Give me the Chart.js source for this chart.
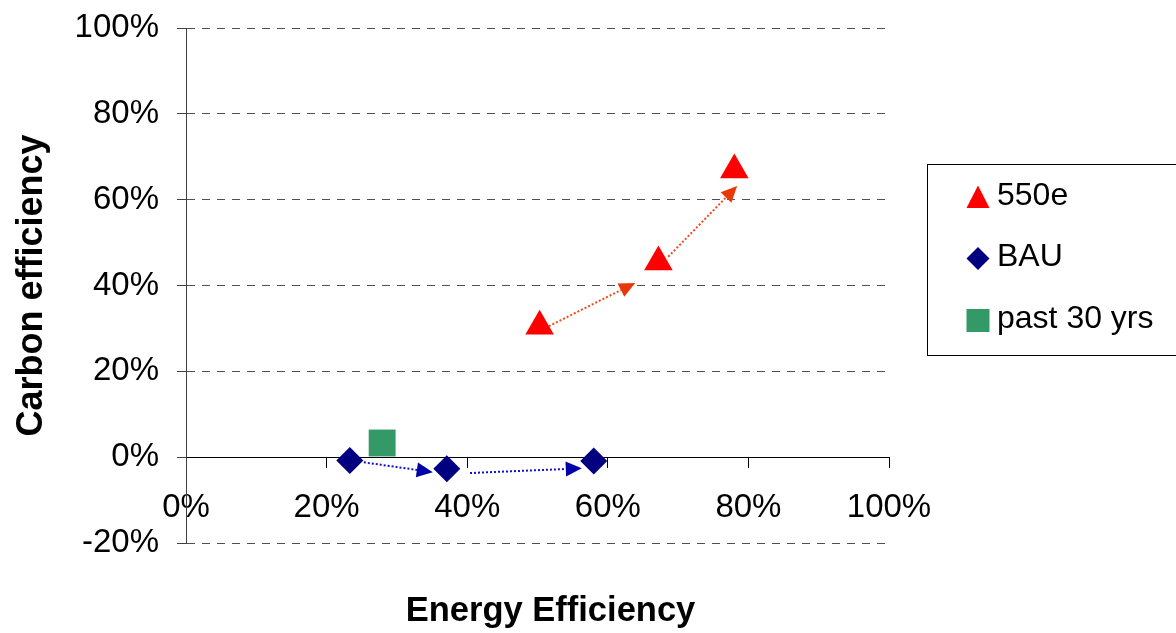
<!DOCTYPE html>
<html><head><meta charset="utf-8">
<script src="https://cdn.jsdelivr.net/npm/chart.js@4.4.1/dist/chart.umd.min.js"></script>
<style>html,body{margin:0;padding:0;background:#fff;}#wrap{width:1176px;height:633px;}</style>
</head><body><div id="wrap"><canvas id="c" width="1176" height="633"></canvas></div>
<script>
// ---- data (percent units) ----
const seriesNames = ['550e', 'BAU', 'past 30 yrs'];
const x550e = [50.3, 67.2, 78.0];
const y550e = [30.5, 45.5, 66.9];
const xBAU = [23.3, 37.1, 58.0];
const yBAU = [-0.8, -2.7, -0.9];
const xPast = [27.9];
const yPast = [3.3];
const xTicks = [0, 20, 40, 60, 80, 100];
const yTicks = [-20, 0, 20, 40, 60, 80, 100];
const xTitle = 'Energy Efficiency';
const yTitle = 'Carbon efficiency';
// arrows between scenario points (data units)
const arrow550eFromX = [51.1, 68.6];
const arrow550eFromY = [30.1, 46.7];
const arrow550eToX = [63.9, 78.4];
const arrow550eToY = [40.6, 63.2];
const arrowBAUFromX = [25.3, 40.4];
const arrowBAUFromY = [-1.2, -3.7];
const arrowBAUToX = [35.1, 56.3];
const arrowBAUToY = [-3.5, -2.6];

const FONT = "'Liberation Sans', Arial, Helvetica, sans-serif";
const pts = (xs, ys) => xs.map((x, i) => ({x: x, y: ys[i]}));
const pct = v => v + '%';

const arrowSets = [
  {fx: arrow550eFromX, fy: arrow550eFromY, tx: arrow550eToX, ty: arrow550eToY, line: '#F04A1E', head: '#E8380A'},
  {fx: arrowBAUFromX, fy: arrowBAUFromY, tx: arrowBAUToX, ty: arrowBAUToY, line: '#1010C8', head: '#0000A8'}
];

const arrowPlugin = {
  id: 'arrows',
  beforeDatasetsDraw(chart) {
    const ctx = chart.ctx, xs = chart.scales.x, ys = chart.scales.y;
    arrowSets.forEach(s => {
      s.fx.forEach((_, i) => {
        const x1 = xs.getPixelForValue(s.fx[i]), y1 = ys.getPixelForValue(s.fy[i]);
        const x2 = xs.getPixelForValue(s.tx[i]), y2 = ys.getPixelForValue(s.ty[i]);
        const a = Math.atan2(y2 - y1, x2 - x1);
        const L = 16, W = 7.5;
        const bx = x2 - L * Math.cos(a), by = y2 - L * Math.sin(a);
        ctx.save();
        ctx.strokeStyle = s.line; ctx.lineWidth = 2; ctx.setLineDash([2, 2]);
        ctx.beginPath(); ctx.moveTo(x1, y1); ctx.lineTo(bx, by); ctx.stroke();
        ctx.setLineDash([]);
        ctx.fillStyle = s.head;
        ctx.beginPath();
        ctx.moveTo(x2, y2);
        ctx.lineTo(bx + W * Math.sin(a), by - W * Math.cos(a));
        ctx.lineTo(bx - W * Math.sin(a), by + W * Math.cos(a));
        ctx.closePath(); ctx.fill();
        ctx.restore();
      });
    });
  }
};

// shift the bottom title band a little to the right, as in the original layout
const titleShiftPlugin = {
  id: 'titleShift',
  afterLayout(chart) { chart.scales.x2.left += 26; }
};

const legendPlugin = {
  id: 'boxLegend',
  afterDraw(chart) {
    const ctx = chart.ctx;
    const box = {l: 927.5, t: 164.5, r: 1180, b: 355.5};
    ctx.save();
    ctx.strokeStyle = '#000'; ctx.lineWidth = 1;
    ctx.strokeRect(box.l, box.t, box.r - box.l, box.b - box.t);
    const rowY = [197, 258.5, 320.5];
    const mx = 978, s = 23;
    chart.data.datasets.forEach((ds, i) => {
      const cy = rowY[i];
      ctx.fillStyle = ds.backgroundColor;
      ctx.beginPath();
      if (ds.pointStyle === 'triangle') {
        ctx.moveTo(mx, cy - 11.5); ctx.lineTo(mx + s / 2, cy + 11); ctx.lineTo(mx - s / 2, cy + 11);
      } else if (ds.pointStyle === 'rectRot') {
        ctx.moveTo(mx, cy - s / 2); ctx.lineTo(mx + s / 2, cy); ctx.lineTo(mx, cy + s / 2); ctx.lineTo(mx - s / 2, cy);
      } else {
        ctx.rect(mx - s / 2, cy - s / 2, s, s);
      }
      ctx.closePath(); ctx.fill();
      ctx.fillStyle = '#000';
      ctx.font = '32px ' + FONT;
      ctx.textAlign = 'left'; ctx.textBaseline = 'middle';
      ctx.fillText(ds.label, 997, cy - 1);
    });
    ctx.restore();
  }
};

new Chart(document.getElementById('c'), {
  type: 'scatter',
  data: {
    datasets: [
      {label: seriesNames[0], data: pts(x550e, y550e), pointStyle: 'triangle', pointRadius: 16.5,
       backgroundColor: '#FF0000', borderColor: '#FF0000', borderWidth: 0, showLine: false},
      {label: seriesNames[1], data: pts(xBAU, yBAU), pointStyle: 'rectRot', pointRadius: 13.5,
       backgroundColor: '#000080', borderColor: '#000080', borderWidth: 0, showLine: false},
      {label: seriesNames[2], data: pts(xPast, yPast), pointStyle: 'rect', pointRadius: 19,
       backgroundColor: '#339966', borderColor: '#339966', borderWidth: 0, showLine: false}
    ]
  },
  options: {
    responsive: false,
    animation: false,
    events: [],
    layout: {padding: {left: 0, right: 287, top: 28, bottom: 0}},
    plugins: {legend: {display: false}, tooltip: {enabled: false}},
    scales: {
      x: {
        type: 'linear', min: 0, max: 100, position: {y: 0},
        afterBuildTicks: sc => { sc.ticks = xTicks.map(v => ({value: v})); },
        grid: {drawOnChartArea: false, drawTicks: true, tickLength: 10, color: '#000', tickColor: '#000'},
        border: {display: true, color: '#000', width: 1},
        ticks: {callback: pct, color: '#000', padding: 21, maxRotation: 0, autoSkip: false,
                font: {family: FONT, size: 33}}
      },
      x2: {
        type: 'linear', axis: 'x', position: 'bottom', min: 0, max: 100,
        grid: {display: false, drawTicks: false},
        border: {display: false},
        ticks: {display: false},
        title: {display: true, text: xTitle, color: '#000', padding: {top: 47.6, bottom: 1},
                font: {family: FONT, size: 34.5, weight: 'bold'}}
      },
      y: {
        type: 'linear', min: -20, max: 100, position: 'left',
        afterBuildTicks: sc => { sc.ticks = yTicks.map(v => ({value: v})); },
        grid: {
          color: c => (c.tick && c.tick.value === 0) ? 'rgba(0,0,0,0)' : '#505050',
          tickColor: '#404040', tickLength: 9, tickBorderDash: [], lineWidth: 1
        },
        border: {display: true, color: '#404040', width: 1, dash: [8, 7]},
        ticks: {callback: pct, color: '#000', padding: 18, font: {family: FONT, size: 33, lineHeight: 0.5}},
        title: {display: true, text: yTitle, color: '#000', padding: {top: 10.4, bottom: 3},
                font: {family: FONT, size: 36, weight: 'bold'}}
      }
    }
  },
  plugins: [arrowPlugin, titleShiftPlugin, legendPlugin]
});
</script></body></html>
